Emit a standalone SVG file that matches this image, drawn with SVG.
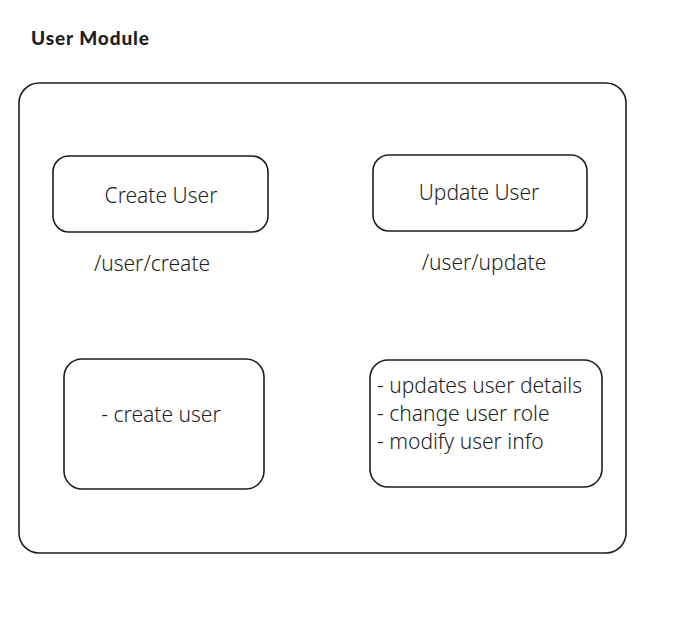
<svg xmlns="http://www.w3.org/2000/svg" width="680" height="624" viewBox="0 0 680 624">
<style>
.box{fill:#ffffff;stroke:#1e1e1e;stroke-width:1.6}
.t{font-family:"Noto Sans","Open Sans",sans-serif;fill:#1e1e1e;font-size:21px;font-weight:300}
.title{font-family:Lato,"Noto Sans",sans-serif;font-weight:900;font-size:19px;letter-spacing:0.9px;fill:#1e1e1e}
</style>
<rect width="680" height="624" fill="#ffffff"/>
<text class="title" x="31" y="45">User Module</text>
<g id="user-module">
<rect class="box" x="19" y="83" width="607" height="470" rx="20"/>
</g>
<g id="create-user">
<rect class="box" x="53" y="156" width="215" height="76" rx="16"/>
<text class="t" x="161" y="203" text-anchor="middle">Create User</text>
</g>
<g id="create-user-path">
<text class="t" x="152" y="271" text-anchor="middle">/user/create</text>
</g>
<g id="update-user">
<rect class="box" x="373" y="155" width="214" height="76" rx="16"/>
<text class="t" x="479" y="200" text-anchor="middle">Update User</text>
</g>
<g id="update-user-path">
<text class="t" x="484" y="270" text-anchor="middle">/user/update</text>
</g>
<g id="create-user-details">
<rect class="box" x="64" y="359" width="200" height="130" rx="18"/>
<text class="t" x="161" y="422" text-anchor="middle">- create user</text>
</g>
<g id="update-user-details">
<rect class="box" x="370" y="360" width="232" height="127" rx="18"/>
<text class="t" x="377" y="393">- updates user details</text>
<text class="t" x="377" y="421">- change user role</text>
<text class="t" x="377" y="449">- modify user info</text>
</g>
<g id="connectors"></g>
</svg>
